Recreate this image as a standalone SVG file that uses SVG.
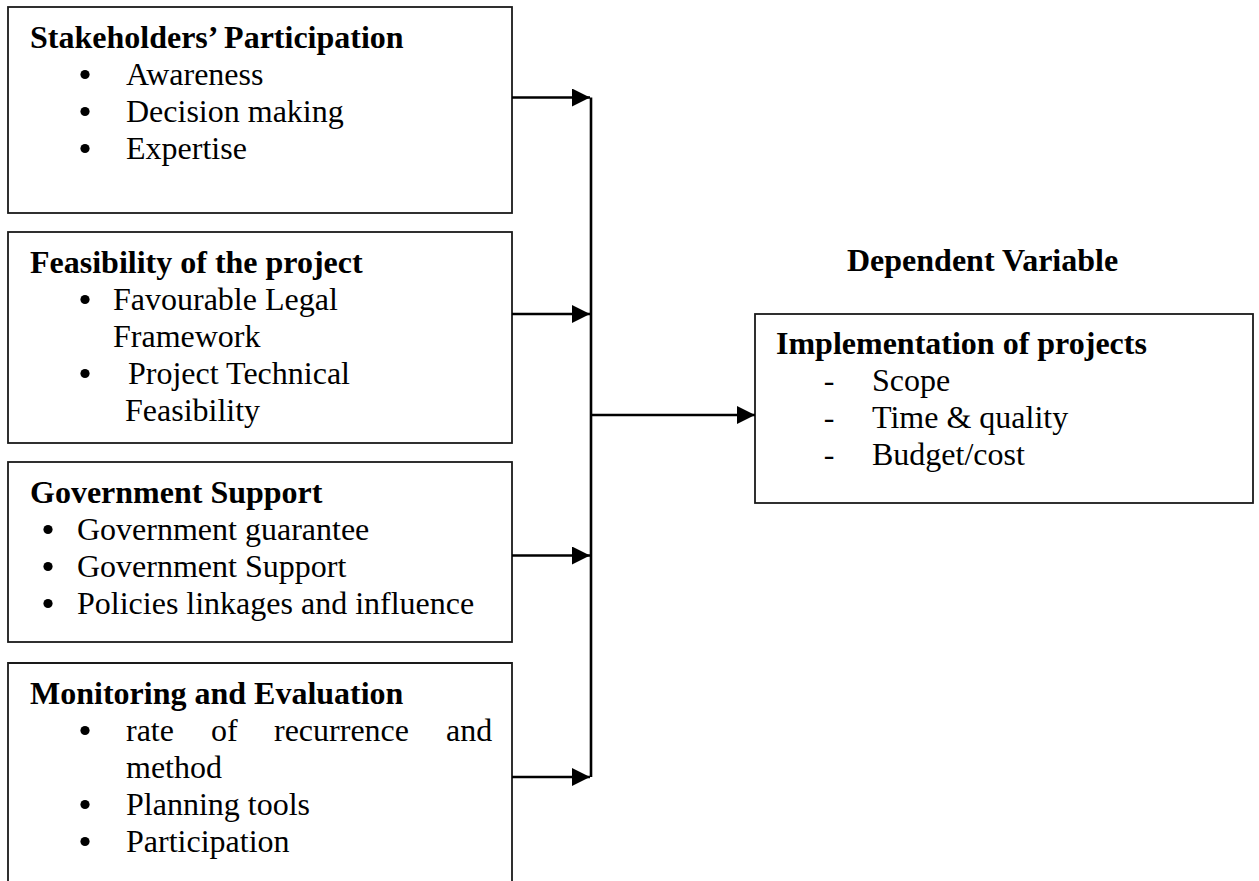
<svg xmlns="http://www.w3.org/2000/svg" width="1259" height="881" viewBox="0 0 1259 881">
<defs>
<style>
.box{fill:#fff;stroke:#1a1a1a;stroke-width:1.8}
.t{font-family:"Liberation Serif","Times New Roman",serif;font-size:32px;fill:#000}
.b{font-weight:bold}
.dash{font-family:"Liberation Serif","Times New Roman",serif;font-size:32px;fill:#000;text-anchor:middle}
.con{fill:none;stroke:#000;stroke-width:2.6}
</style>
<circle id="dot" cx="0" cy="0" r="4.6" fill="#000"/>
<marker id="ah" markerUnits="userSpaceOnUse" markerWidth="18" markerHeight="18" viewBox="0 0 16 16" refX="16" refY="8" orient="auto">
<path d="M0,0 L16,8 L0,16 Z" fill="#000"/>
</marker>
</defs>
<rect width="1259" height="881" fill="#fff"/>

<g id="node-stakeholders">
<rect class="box" x="8" y="7" width="504" height="206"/>
<text class="t b" x="30" y="48">Stakeholders’ Participation</text>
<use href="#dot" x="85" y="74.5"/><text class="t" x="126" y="85">Awareness</text>
<use href="#dot" x="85" y="111.5"/><text class="t" x="126" y="122">Decision making</text>
<use href="#dot" x="85" y="148.5"/><text class="t" x="126" y="159">Expertise</text>
</g>

<g id="node-feasibility">
<rect class="box" x="8" y="232" width="504" height="211"/>
<text class="t b" x="30" y="273">Feasibility of the project</text>
<use href="#dot" x="85" y="299.5"/><text class="t" x="113" y="310">Favourable Legal</text>
<text class="t" x="113" y="347">Framework</text>
<use href="#dot" x="85" y="373.5"/><text class="t" x="128" y="384">Project Technical</text>
<text class="t" x="125" y="421">Feasibility</text>
</g>

<g id="node-government">
<rect class="box" x="8" y="462" width="504" height="180"/>
<text class="t b" x="30" y="503">Government Support</text>
<use href="#dot" x="48" y="529.5"/><text class="t" x="77" y="540">Government guarantee</text>
<use href="#dot" x="48" y="566.5"/><text class="t" x="77" y="577">Government Support</text>
<use href="#dot" x="48" y="603.5"/><text class="t" x="77" y="614">Policies linkages and influence</text>
</g>

<g id="node-monitoring">
<path class="box" d="M8,885 L8,663 L512,663 L512,885"/>
<text class="t b" x="30" y="704">Monitoring and Evaluation</text>
<use href="#dot" x="85" y="730.5"/>
<text class="t" y="741"><tspan x="126">rate</tspan><tspan x="211">of</tspan><tspan x="274">recurrence</tspan><tspan x="446">and</tspan></text>
<text class="t" x="126" y="778">method</text>
<use href="#dot" x="85" y="804.5"/><text class="t" x="126" y="815">Planning tools</text>
<use href="#dot" x="85" y="841.5"/><text class="t" x="126" y="852">Participation</text>
</g>

<g id="label-dependent">
<text class="t b" x="847" y="271">Dependent Variable</text>
</g>

<g id="node-implementation">
<rect class="box" x="755" y="314" width="498" height="189"/>
<text class="t b" x="776" y="354">Implementation of projects</text>
<text class="dash" x="829" y="391">-</text><text class="t" x="872" y="391">Scope</text>
<text class="dash" x="829" y="428">-</text><text class="t" x="872" y="428">Time &amp; quality</text>
<text class="dash" x="829" y="465">-</text><text class="t" x="872" y="465">Budget/cost</text>
</g>

<g id="connectors">
<line class="con" x1="591" y1="97.5" x2="591" y2="777"/>
<line class="con" x1="512" y1="97.5" x2="590" y2="97.5" marker-end="url(#ah)"/>
<line class="con" x1="512" y1="314" x2="590" y2="314" marker-end="url(#ah)"/>
<line class="con" x1="512" y1="555.5" x2="590" y2="555.5" marker-end="url(#ah)"/>
<line class="con" x1="512" y1="777" x2="590" y2="777" marker-end="url(#ah)"/>
<line class="con" x1="591" y1="415" x2="755" y2="415" marker-end="url(#ah)"/>
</g>
</svg>
